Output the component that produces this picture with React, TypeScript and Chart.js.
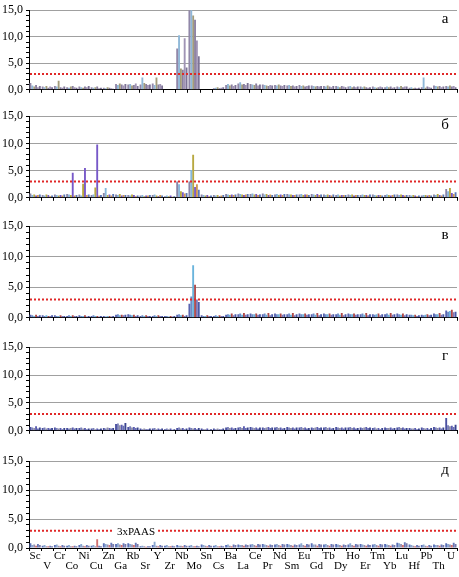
import React, { useEffect, useRef } from "react";
import { Chart, registerables } from "chart.js";
Chart.register(...registerables);

const ELEMENTS = ["Sc","V","Cr","Co","Ni","Cu","Zn","Ga","Rb","Sr","Y","Zr","Nb","Mo","Sn","Cs","Ba","La","Ce","Pr","Nd","Sm","Eu","Gd","Tb","Dy","Ho","Er","Tm","Yb","Lu","Hf","Pb","Th","U"];
const PANEL_LETTERS = ["а", "б", "в", "г", "д"];
const THRESHOLD = 3;
const THRESHOLD_LABEL = "3xPAAS";
const Y_MAX = 15;

// Panel а
const a1 = [1.3,0.6,0.7,0.5,0.6,0.5,0.4,1.1,1.0,1.0,1.2,0,7.8,15.5,0,0.3,0.9,1.2,1.1,1.0,0.9,0.8,0.9,0.8,0.7,0.7,0.6,0.6,0.6,0.5,0.6,0.4,0.5,0.8,0.7];
const a2 = [0.8,0.5,0.6,0.4,0.5,0.4,0.3,0.9,1.1,2.3,0.9,0,10.3,15.2,0,0.4,1.1,1.4,1.0,0.9,0.8,0.9,0.7,0.7,0.6,0.6,0.7,0.5,0.5,0.6,0.5,0.5,2.3,0.7,0.6];
const a3 = [0.6,0.7,1.7,0.6,0.4,0.5,0.5,1.2,0.8,1.3,2.3,0,4.0,14.0,0,0.5,0.8,1.0,0.9,0.8,1.0,0.7,0.8,0.6,0.8,0.5,0.5,0.6,0.4,0.5,0.7,0.3,0.4,0.6,0.8];
const a4 = [0.9,0.4,0.5,0.7,0.6,0.6,0.4,1.0,0.9,1.1,1.0,0,3.8,13.2,0,0.3,1.0,1.1,1.2,0.7,0.8,0.8,0.6,0.7,0.6,0.7,0.6,0.5,0.5,0.6,0.5,0.4,0.6,0.7,0.6];
const a5 = [0.5,0.6,0.4,0.5,0.5,0.3,0.3,0.8,1.2,0.9,1.1,0,9.7,9.3,0,0.4,0.7,0.9,0.8,0.9,0.7,0.6,0.7,0.6,0.5,0.6,0.5,0.4,0.6,0.4,0.6,0.3,0.5,0.5,0.7];
const a6 = [0.7,0.5,0.6,0.4,0.7,0.4,0.2,1.1,0.7,1.0,0.8,0,4.2,6.3,0,0.5,0.9,1.3,1.0,0.8,0.9,0.7,0.8,0.7,0.7,0.5,0.6,0.5,0.5,0.5,0.6,0.4,0.4,0.6,0.5];

// Panel б
const b1 = [0.8,0.5,0.6,0.7,0.6,0.5,0.9,0.6,0.5,0.4,0.5,0.3,3.0,3.0,0.6,0.5,0.7,0.8,0.7,0.8,0.6,0.7,0.6,0.7,0.6,0.5,0.6,0.5,0.6,0.5,0.6,0.5,0.4,0.6,1.6];
const b2 = [0.5,0.4,0.5,0.6,0.4,0.6,1.8,0.5,0.4,0.5,0.6,0.4,2.5,5.1,0.5,0.4,0.6,0.7,0.8,0.6,0.7,0.6,0.7,0.6,0.5,0.6,0.5,0.6,0.5,0.6,0.5,0.4,0.5,0.5,1.2];
const b3 = [0.6,0.6,0.4,0.5,2.6,1.9,0.5,0.7,0.6,0.3,0.4,0.3,1.2,7.9,0.4,0.5,0.5,0.6,0.6,0.7,0.5,0.6,0.5,0.5,0.6,0.4,0.6,0.5,0.4,0.5,0.6,0.5,0.5,0.7,1.8];
const b4 = [0.4,0.5,0.5,4.6,5.5,9.8,0.6,0.4,0.5,0.4,0.3,0.4,1.0,2.0,0.5,0.3,0.6,0.5,0.7,0.5,0.6,0.5,0.6,0.7,0.5,0.5,0.4,0.5,0.5,0.4,0.5,0.4,0.4,0.5,0.9];
const b5 = [0.5,0.3,0.4,0.4,0.5,0.4,0.4,0.5,0.3,0.4,0.5,0.2,0.8,2.5,0.3,0.4,0.5,0.6,0.5,0.6,0.5,0.5,0.6,0.5,0.4,0.5,0.5,0.4,0.5,0.5,0.4,0.3,0.5,0.4,0.7];
const b6 = [0.6,0.4,0.6,0.5,0.6,0.5,0.7,0.5,0.4,0.5,0.4,0.3,0.9,1.5,0.4,0.5,0.6,0.7,0.6,0.5,0.7,0.6,0.5,0.6,0.6,0.5,0.5,0.6,0.4,0.6,0.5,0.4,0.4,0.6,1.0];

// Panel в
const c1 = [0.5,0.4,0.4,0.3,0.4,0.3,0.3,0.5,0.6,0.3,0.3,0.3,0.5,2.3,0.4,0.3,0.5,0.6,0.7,0.6,0.7,0.6,0.7,0.6,0.7,0.6,0.7,0.6,0.6,0.6,0.7,0.5,0.5,0.7,1.2];
const c2 = [0.4,0.3,0.3,0.4,0.3,0.4,0.2,0.6,0.5,0.4,0.4,0.3,0.6,3.5,0.3,0.4,0.6,0.7,0.6,0.7,0.6,0.7,0.6,0.7,0.6,0.7,0.6,0.7,0.5,0.7,0.6,0.5,0.4,0.6,1.0];
const c3 = [0.3,0.4,0.3,0.3,0.3,0.3,0.3,0.4,0.4,0.3,0.3,0.2,0.4,8.6,0.3,0.3,0.5,0.5,0.6,0.5,0.6,0.5,0.6,0.5,0.6,0.5,0.6,0.5,0.6,0.5,0.5,0.4,0.5,0.6,1.1];
const c4 = [0.5,0.3,0.4,0.4,0.4,0.3,0.3,0.5,0.5,0.4,0.4,0.3,0.5,5.4,0.4,0.4,0.7,0.8,0.7,0.8,0.7,0.8,0.7,0.8,0.7,0.8,0.7,0.8,0.7,0.8,0.7,0.5,0.6,0.8,1.3];
const c5 = [0.3,0.3,0.3,0.3,0.2,0.2,0.2,0.4,0.3,0.3,0.3,0.2,0.3,3.0,0.3,0.3,0.4,0.5,0.5,0.4,0.5,0.4,0.5,0.4,0.5,0.4,0.5,0.4,0.4,0.5,0.4,0.3,0.4,0.5,0.9];
const c6 = [0.4,0.4,0.3,0.3,0.3,0.3,0.3,0.5,0.4,0.3,0.3,0.3,0.4,2.6,0.3,0.3,0.6,0.6,0.6,0.6,0.6,0.6,0.6,0.6,0.6,0.6,0.6,0.6,0.6,0.6,0.6,0.4,0.5,0.6,1.0];

// Panel г
const d1 = [0.7,0.5,0.6,0.5,0.5,0.4,0.5,1.2,0.7,0.4,0.4,0.3,0.5,0.6,0.4,0.4,0.6,0.6,0.7,0.6,0.6,0.7,0.6,0.6,0.6,0.7,0.6,0.6,0.5,0.6,0.6,0.5,0.6,0.7,2.3];
const d2 = [0.6,0.6,0.5,0.4,0.6,0.5,0.4,1.3,0.8,0.3,0.5,0.4,0.6,0.5,0.3,0.3,0.7,0.7,0.6,0.5,0.7,0.6,0.7,0.5,0.7,0.6,0.7,0.5,0.6,0.5,0.7,0.4,0.5,0.6,1.0];
const d3 = [0.5,0.4,0.4,0.5,0.4,0.3,0.6,1.0,0.6,0.4,0.3,0.3,0.4,0.4,0.3,0.4,0.5,0.5,0.5,0.6,0.5,0.5,0.5,0.6,0.5,0.5,0.5,0.6,0.4,0.5,0.5,0.4,0.4,0.5,0.8];
const d4 = [0.8,0.5,0.5,0.6,0.5,0.4,0.5,1.1,0.7,0.3,0.4,0.4,0.5,0.5,0.4,0.3,0.6,0.8,0.6,0.7,0.6,0.6,0.6,0.7,0.6,0.6,0.6,0.7,0.5,0.6,0.6,0.5,0.5,0.6,0.9];
const d5 = [0.4,0.4,0.3,0.4,0.3,0.3,0.4,0.9,0.5,0.3,0.3,0.2,0.3,0.3,0.2,0.3,0.4,0.5,0.4,0.5,0.4,0.4,0.4,0.5,0.4,0.4,0.4,0.5,0.3,0.4,0.4,0.3,0.3,0.4,0.7];
const d6 = [0.6,0.5,0.5,0.5,0.4,0.4,0.5,1.4,0.6,0.4,0.4,0.3,0.4,0.5,0.3,0.4,0.5,0.6,0.6,0.6,0.5,0.6,0.5,0.6,0.5,0.6,0.5,0.6,0.5,0.5,0.5,0.4,0.5,0.6,1.1];

// Panel д
const e1 = [0.8,0.4,0.5,0.4,0.5,0.4,0.8,0.7,0.8,0.3,0.5,0.4,0.5,0.4,0.6,0.4,0.5,0.6,0.6,0.7,0.6,0.7,0.6,0.8,0.6,0.7,0.6,0.7,0.6,0.7,0.9,0.6,0.5,0.6,0.8];
const e2 = [0.5,0.5,0.6,0.5,0.7,0.5,0.7,0.8,0.7,0.4,1.1,0.5,0.4,0.5,0.5,0.5,0.6,0.5,0.7,0.6,0.7,0.6,0.8,0.6,0.7,0.6,0.8,0.6,0.7,0.6,0.8,0.5,0.6,0.5,0.7];
const e3 = [0.6,0.3,0.4,0.3,0.4,0.3,0.6,0.6,0.6,0.3,0.4,0.3,0.4,0.3,0.4,0.3,0.4,0.5,0.5,0.5,0.5,0.5,0.5,0.6,0.5,0.5,0.5,0.5,0.5,0.5,0.7,0.4,0.4,0.5,0.6];
const e4 = [0.4,0.3,0.3,0.3,0.3,1.5,0.5,0.5,0.5,0.2,0.3,0.3,0.3,0.3,0.3,0.3,0.3,0.4,0.4,0.4,0.4,0.4,0.4,0.4,0.4,0.4,0.4,0.4,0.4,0.4,0.5,0.3,0.3,0.4,0.5];
const e5 = [0.7,0.4,0.5,0.4,0.5,0.4,0.9,0.8,0.9,0.3,0.5,0.4,0.5,0.4,0.5,0.4,0.6,0.6,0.7,0.6,0.7,0.6,0.7,0.7,0.7,0.6,0.7,0.6,0.7,0.6,1.0,0.5,0.5,0.6,0.9];
const e6 = [0.5,0.3,0.4,0.3,0.4,0.3,0.7,0.7,0.7,0.3,0.4,0.3,0.4,0.3,0.4,0.3,0.5,0.5,0.6,0.5,0.6,0.5,0.6,0.6,0.6,0.5,0.6,0.5,0.6,0.5,0.8,0.4,0.4,0.5,0.7];

const PANEL_SERIES = [
  [a1, a2, a3, a4, a5, a6],
  [b1, b2, b3, b4, b5, b6],
  [c1, c2, c3, c4, c5, c6],
  [d1, d2, d3, d4, d5, d6],
  [e1, e2, e3, e4, e5, e6],
];

const PANEL_COLORS = [
  ["#9187a8", "#8fb8d8", "#a39c7a", "#8a7fa0", "#a094b5", "#7d7396"],
  ["#8a86a8", "#86b8dc", "#b8a840", "#7758c8", "#d09850", "#5a78b8"],
  ["#5a64b0", "#6a8cc8", "#6ab4dc", "#b04848", "#8078b8", "#4a5aa8"],
  ["#4a50a0", "#7a80b8", "#9090a8", "#5a5cb0", "#6870b0", "#3a4490"],
  ["#5a70b8", "#8aa8d0", "#9a90b0", "#d07070", "#6878b8", "#7a7aa8"],
];

// layout (pixel geometry of each panel's plot area)
const PANEL_TOP = [5, 114, 224, 345, 459];
const PANEL_BOTTOM = [95, 203, 323, 436, 548];
const PLOT_LEFT = 29;
const PLOT_RIGHT = 457;
const FONT = "'Liberation Serif', 'Times New Roman', serif";

function Panel({ index }: { index: number }) {
  const ref = useRef<HTMLCanvasElement | null>(null);
  const isLast = index === PANEL_SERIES.length - 1;
  const plotTop = PANEL_TOP[index];
  const plotBottom = PANEL_BOTTOM[index];
  const padTop = Math.min(8, plotTop);
  const xh = isLast ? 577 - plotBottom : 5;
  const canvasTop = plotTop - padTop;
  const canvasHeight = padTop + (plotBottom - plotTop) + xh;

  useEffect(() => {
    if (!ref.current) return;
    const labels = ELEMENTS.map((el, i) => (i % 2 === 0 ? [el, ""] : ["", el]));
    const series = PANEL_SERIES[index];
    const colors = PANEL_COLORS[index];
    const overlay = {
      id: "overlay" + index,
      afterDatasetsDraw(chart: any) {
        const { ctx, chartArea } = chart;
        const y = chart.scales.y.getPixelForValue(THRESHOLD);
        ctx.save();
        ctx.strokeStyle = "#e02828";
        ctx.lineWidth = 2;
        ctx.setLineDash([2, 2]);
        ctx.beginPath();
        ctx.moveTo(chartArea.left + 1, y);
        ctx.lineTo(chartArea.right, y);
        ctx.stroke();
        ctx.setLineDash([]);
        if (isLast) {
          ctx.font = "11px " + FONT;
          const tx = chartArea.left + 107;
          const w = ctx.measureText(THRESHOLD_LABEL).width;
          ctx.fillStyle = "#ffffff";
          ctx.fillRect(tx - w / 2 - 3, y - 6, w + 6, 12);
          ctx.fillStyle = "#000000";
          ctx.textAlign = "center";
          ctx.textBaseline = "middle";
          ctx.fillText(THRESHOLD_LABEL, tx, y + 1);
        }
        ctx.font = "15px " + FONT;
        ctx.fillStyle = "#000000";
        ctx.textAlign = "center";
        ctx.textBaseline = "middle";
        ctx.fillText(PANEL_LETTERS[index], chartArea.right - 12, chartArea.top + 9);
        ctx.restore();
      },
    };
    const chart = new Chart(ref.current, {
      type: "bar",
      data: {
        labels,
        datasets: series.map((vals, i) => ({
          label: "s" + (i + 1),
          data: vals,
          backgroundColor: colors[i],
          borderWidth: 0,
          barPercentage: 1.0,
          categoryPercentage: 0.92,
        })),
      },
      options: {
        responsive: false,
        animation: false,
        layout: { padding: { top: padTop, right: 459 - PLOT_RIGHT, left: 0, bottom: 0 } },
        plugins: { legend: { display: false }, tooltip: { enabled: false } },
        scales: {
          x: {
            grid: {
              offset: true,
              drawOnChartArea: false,
              drawTicks: true,
              tickLength: 3,
              color: "#000",
              tickColor: "#000",
            },
            border: { color: "#000", width: 1 },
            ticks: {
              display: isLast,
              autoSkip: false,
              maxRotation: 0,
              minRotation: 0,
              padding: 0,
              color: "#000",
              font: { family: FONT, size: 11, lineHeight: 0.9 },
            },
            afterFit: (s: any) => {
              s.height = xh;
            },
          },
          y: {
            min: 0,
            max: Y_MAX,
            ticks: {
              stepSize: 1,
              autoSkip: false,
              maxTicksLimit: 50,
              padding: 3,
              color: "#000",
              font: { family: FONT, size: 12 },
              callback: (v: any) => (Number(v) % 5 === 0 ? Number(v).toFixed(1).replace(".", ",") : ""),
            },
            grid: {
              color: (ctx: any) =>
                ctx.tick && ctx.tick.value % 5 === 0 && ctx.tick.value !== 0 ? "#a0a0a0" : "rgba(0,0,0,0)",
              tickColor: "#000",
              tickLength: 3,
              drawTicks: true,
            },
            border: { color: "#000", width: 1 },
            afterFit: (s: any) => {
              s.width = PLOT_LEFT;
            },
          },
        },
      },
      plugins: [overlay],
    });
    return () => chart.destroy();
  }, [index]);

  return (
    <canvas
      ref={ref}
      width={459}
      height={canvasHeight}
      style={{ position: "absolute", left: 0, top: canvasTop, width: 459, height: canvasHeight }}
    />
  );
}

export default function App() {
  return (
    <div style={{ position: "absolute", left: 0, top: 0, width: 459, height: 577, background: "#fff", overflow: "hidden" }}>
      {PANEL_SERIES.map((_, i) => (
        <Panel key={i} index={i} />
      ))}
    </div>
  );
}
